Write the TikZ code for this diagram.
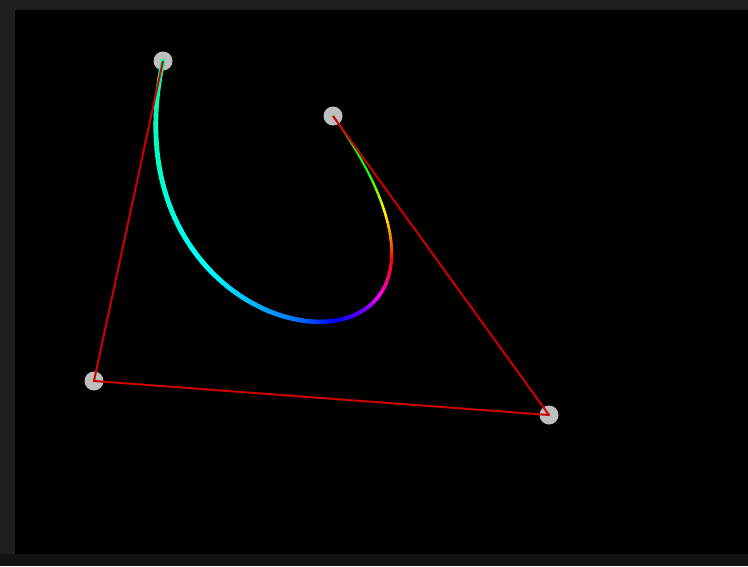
\documentclass[tikz,border=0pt]{standalone}
\definecolor{framedark}{RGB}{30,30,30}
\definecolor{framelow}{RGB}{18,18,18}
\definecolor{handlegray}{RGB}{190,190,190}
\definecolor{hullred}{RGB}{205,0,0}
\tikzset{
  handle/.style={circle,fill=handlegray,minimum size=19pt,inner sep=0pt},
  hull/.style={hullred,line width=2pt,line join=round},
}
\begin{document}
\begin{tikzpicture}[x=1pt,y=-1pt]
  \useasboundingbox (0,0) rectangle (748,566);
  % Canvas
  \fill[framedark] (0,0) rectangle (748,566);
  \fill[framelow] (0,554) rectangle (748,566);
  \fill[black] (15,10) rectangle (748,554);
  % Control points
  \node[handle] (p0) at (163,61) {};
  \node[handle] (p1) at (94,381) {};
  \node[handle] (p2) at (549,415) {};
  \node[handle] (p3) at (333,116) {};
  % Samples along the curve
  \foreach \i in {0,...,100}{
    \pgfmathsetmacro{\s}{\i/100}
    \path (p0.center) .. controls (p1.center) and (p2.center) .. (p3.center)
      coordinate[pos=\s] (b\i);
  }
  % Rainbow curve
  \foreach \i [evaluate=\i as \j using int(\i+1)] in {0,...,99}{
    \pgfmathsetmacro{\s}{(\i+0.5)/100}
    \pgfmathsetmacro{\hue}{\s<0.3 ? 158+73.3*\s : (\s<0.5 ? 180+175*(\s-0.3) :
      (\s<0.65 ? 215+333*(\s-0.5) : (\s<0.8 ? 265+667*(\s-0.65) :
      (\s<0.88 ? 365+687*(\s-0.8) : (\s<0.93 ? 420+1100*(\s-0.88) : 475+71*(\s-0.93))))))}
    \pgfmathsetmacro{\hue}{mod(\hue,360)}
    \pgfmathsetmacro{\w}{4.6+2.4*\s-5.4*\s*\s}
    \definecolor{seg}{Hsb}{\hue,1,1}
    \draw[seg,line width=\w pt,line cap=round] (b\i) -- (b\j);
  }
  % Hull
  \draw[hull] (p0.center) -- (p1.center) -- (p2.center) -- (p3.center);
\end{tikzpicture}
\end{document}
